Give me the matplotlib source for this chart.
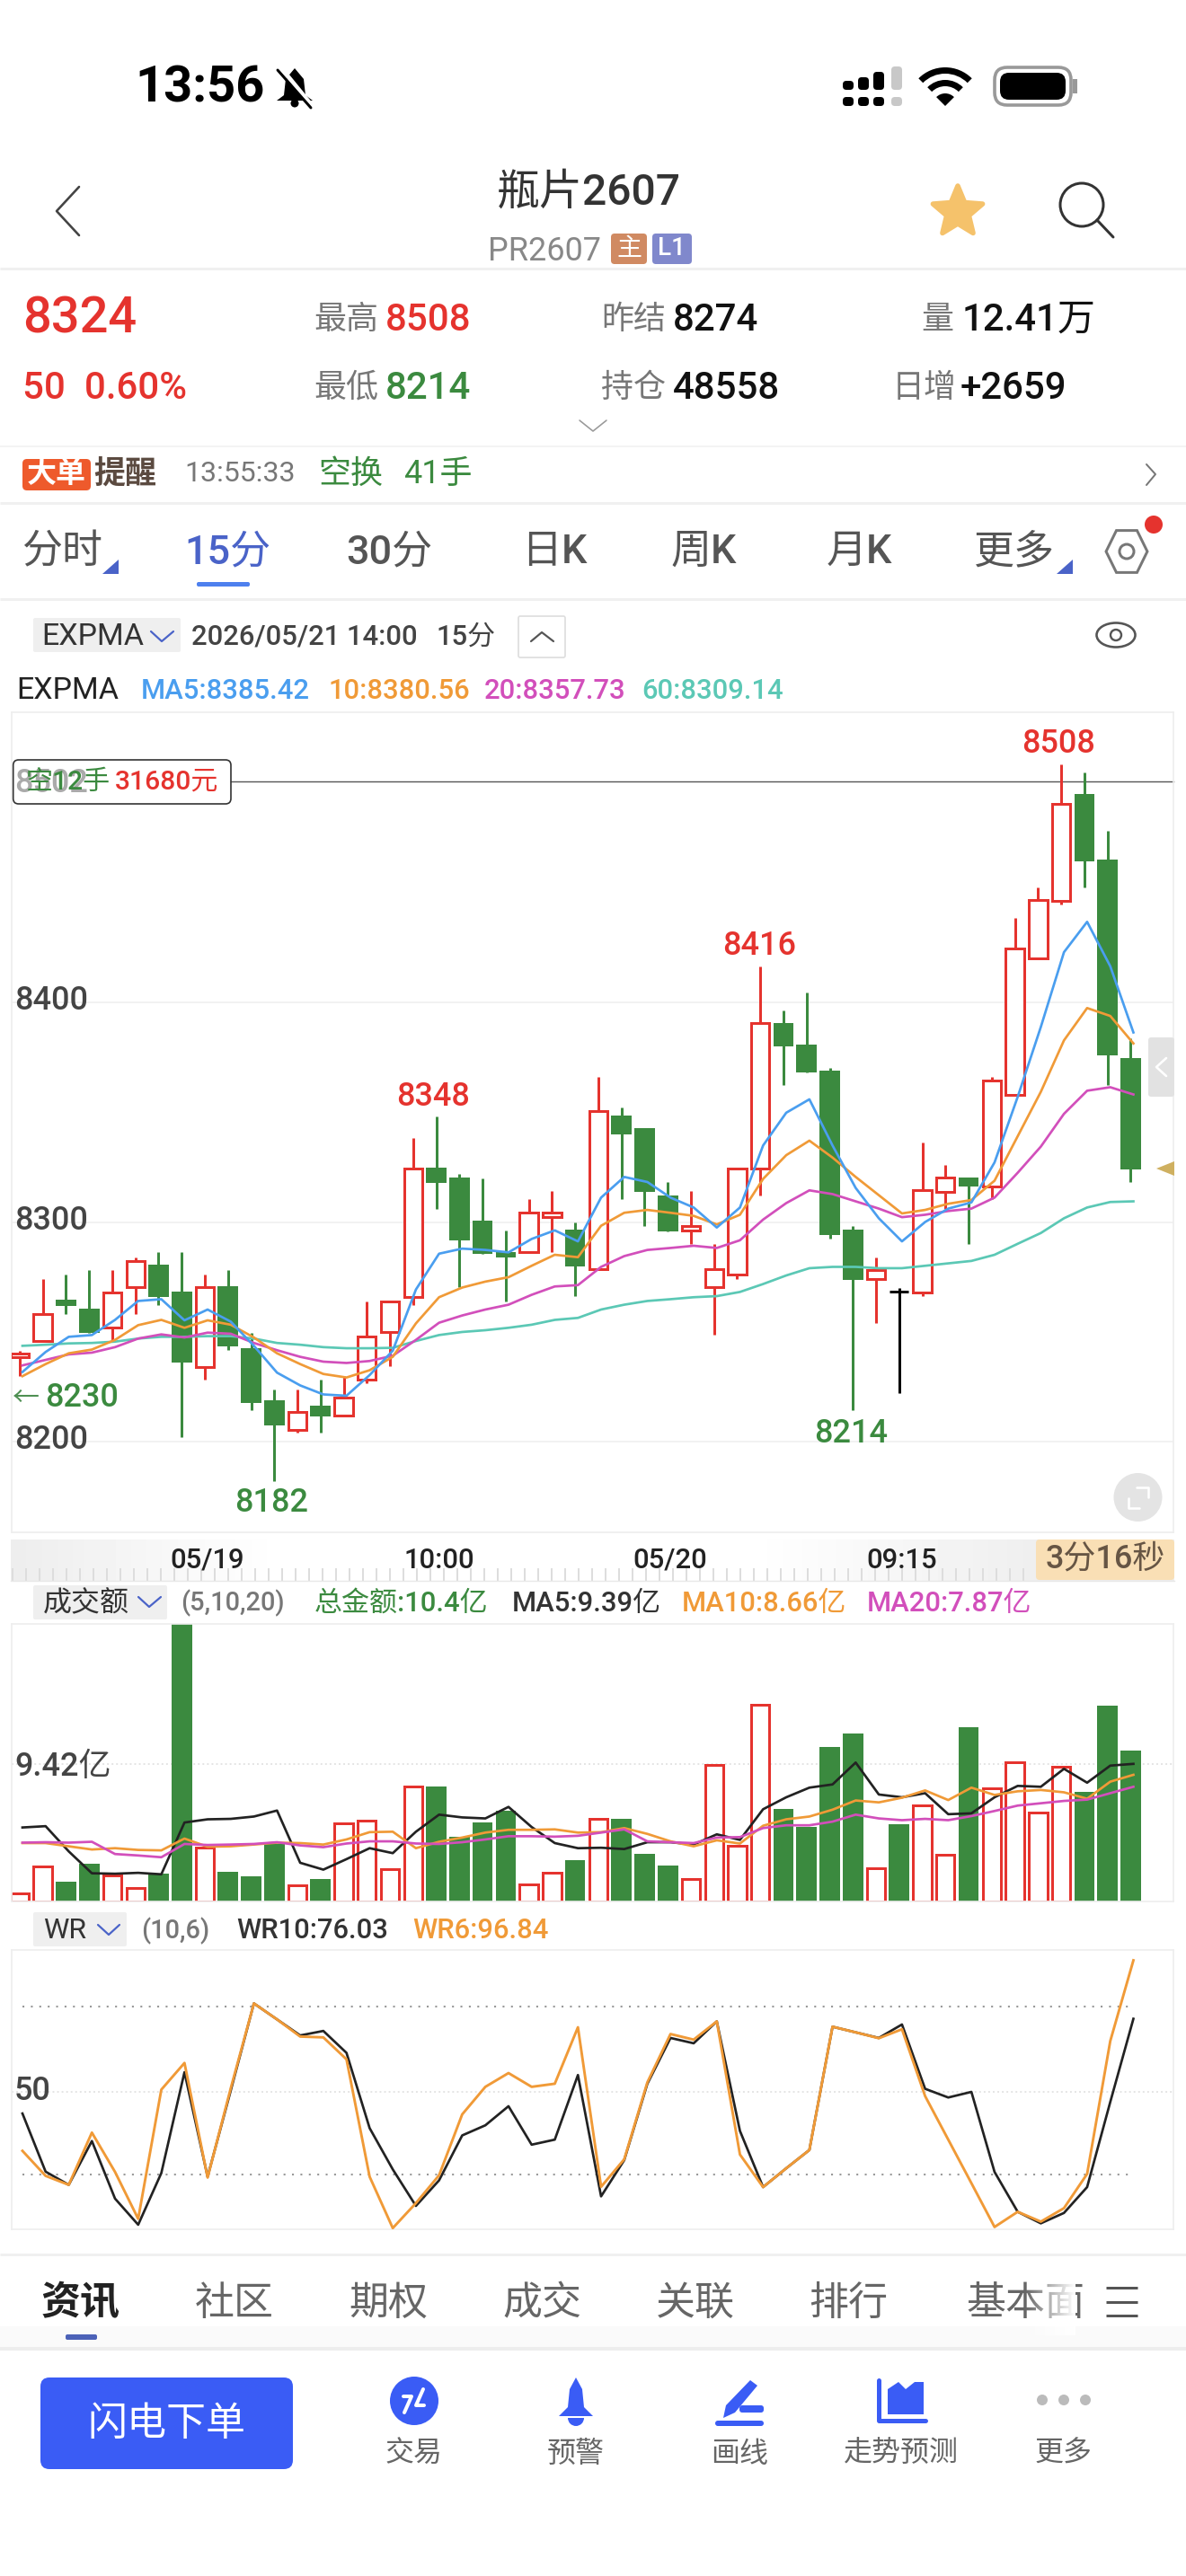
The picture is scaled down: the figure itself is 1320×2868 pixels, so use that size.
import numpy as np
import matplotlib
matplotlib.use("Agg")
import matplotlib.pyplot as plt
from matplotlib.patches import FancyBboxPatch, Rectangle, Circle, Polygon, Wedge, Ellipse

plt.rcParams['font.family'] = ['Roboto', 'Noto Sans CJK SC', 'DejaVu Sans']

W = 1320
H = 2868

# candles
highs = [8241.4, 8274, 8276.2, 8278.2, 8278.2, 8284, 8286.2, 8286.2, 8276.2, 8278.2, 8249.7, 8223.8, 8223.8, 8228.2, 8229.8, 8264, 8264, 8338, 8348, 8321.8, 8319.9, 8296, 8310.5, 8314, 8300,
         8366, 8351.9, 8342.5, 8318.2, 8314, 8290, 8324.3, 8416.3, 8396, 8404.4, 8369.9, 8298, 8284, 8269.9, 8336.2, 8326, 8320.4, 8366, 8438.4, 8452.2, 8508.3, 8504.4, 8477.9, 8383.7]
tops = [8240.3, 8258, 8264.6, 8260.8, 8268, 8282.3, 8280.7, 8268.5, 8270.2, 8270.7, 8242.5, 8218.8, 8213.8, 8216.6, 8220.2, 8248, 8264, 8324.3, 8324.6, 8320.4, 8300.6, 8286.2, 8304.1, 8304.4, 8296.7,
        8350.6, 8348.6, 8342.5, 8312.2, 8298.3, 8278.5, 8324.3, 8390.3, 8390.6, 8380.7, 8368.8, 8296.7, 8278.2, 8268.2, 8314.4, 8320.4, 8320.4, 8364.4, 8424.3, 8446.4, 8490.3, 8494.8, 8464.9, 8374.6]
bottoms = [8238.7, 8245.9, 8261.9, 8249.7, 8252, 8270.2, 8265.8, 8235.9, 8234, 8243.6, 8217.7, 8207.7, 8205.5, 8211.6, 8212.2, 8228.2, 8250, 8265.8, 8317.7, 8291.7, 8285.6, 8283.7, 8286.2, 8302.2, 8280,
           8278.5, 8339.8, 8313.8, 8295.6, 8296.1, 8270.2, 8276.2, 8324.3, 8380, 8368, 8293.9, 8273.8, 8274, 8268.2, 8268, 8313.8, 8316, 8316, 8358, 8419.9, 8445.9, 8463.8, 8375.7, 8323.8]
lows = [8229.8, 8245.9, 8258, 8249.7, 8246.4, 8258, 8262.4, 8202.2, 8228.2, 8242, 8214.4, 8182.3, 8204.4, 8204.4, 8212.2, 8226.5, 8234.3, 8262.4, 8306, 8270.2, 8285.6, 8264, 8286.2, 8286.2, 8266.3,
        8278.5, 8310.5, 8298.3, 8295.6, 8290, 8248.6, 8274, 8312.2, 8362.4, 8368, 8292.3, 8214.4, 8254.1, 8222.1, 8266.3, 8306, 8290, 8310.5, 8358, 8419.9, 8444.2, 8452.2, 8362.2, 8318.2]
kinds = list("rrggrrggrgggrgrrrrggggrrgrgggrrrrggggrkrrgrrrrggg")

expma5 = [8231.8, 8240.9, 8247.8, 8248.6, 8255.5, 8264.1, 8264.9, 8255.3, 8260.2, 8254.7, 8243.7, 8231.5, 8225.7, 8221.6, 8221, 8230.4, 8241.5, 8269.3, 8285.6, 8287.9, 8287.3, 8286.2, 8292.3, 8296.2, 8291.2,
          8311.1, 8320.5, 8318.2, 8311.1, 8306.6, 8297.5, 8306.6, 8334.8, 8349.7, 8355.8, 8334.8, 8315.5, 8301.7, 8291.2, 8300, 8306.1, 8308.9, 8327.1, 8356.9, 8388.7, 8422.7, 8436.5, 8416.3, 8386.2]
expma10 = [8229.9, 8235.4, 8240.3, 8242, 8246.4, 8253.1, 8255.5, 8251.9, 8255.3, 8253.3, 8247.5, 8240.3, 8235.4, 8230.9, 8229.3, 8232.6, 8238.7, 8253.9, 8265.8, 8270.2, 8272.9, 8274.9, 8280.1, 8285.1, 8284,
           8298.3, 8304.2, 8305.5, 8304.2, 8302.8, 8298.9, 8303.3, 8319.6, 8330.4, 8337, 8329.3, 8320.5, 8312.2, 8303.9, 8305.5, 8308.3, 8310, 8318.8, 8339, 8359.2, 8382.6, 8397.3, 8393.7, 8381.2]
expma20 = [8234.8, 8237.3, 8239.8, 8240.6, 8243.1, 8247, 8248.9, 8247.5, 8249.7, 8249.2, 8245, 8241.7, 8238.7, 8236.5, 8235.9, 8236.8, 8239.2, 8246.4, 8254.2, 8257.5, 8260.2, 8262.4, 8266.9, 8270.7, 8271.3,
           8279.6, 8284.5, 8287.3, 8288.2, 8289.2, 8288.2, 8291.7, 8301.1, 8308.6, 8314.4, 8312.7, 8309.4, 8306.1, 8302.2, 8303.3, 8305, 8306.1, 8311.1, 8322.4, 8334.3, 8349.2, 8359.7, 8361.3, 8358]
expma60 = [8243.7, 8244.2, 8244.8, 8245, 8245.6, 8247, 8247.8, 8247.8, 8248.1, 8248.1, 8247, 8245, 8244.2, 8243.1, 8242.6, 8242.6, 8242.8, 8245.9, 8248.6, 8250, 8250.8, 8251.9, 8253.3, 8255.5, 8256.4,
           8260.2, 8262.4, 8264.1, 8264.9, 8265.8, 8266.3, 8268.2, 8271.8, 8275.7, 8279, 8279.6, 8279.6, 8279, 8279, 8280.1, 8281.2, 8282.3, 8285.1, 8290.1, 8295, 8301.7, 8306.6, 8309.1, 8309.4]

# turnover in yi
turnover = [0.6, 2.39, 1.35, 2.61, 1.79, 0.94, 1.92, 19.03, 3.7, 2.04, 1.76, 3.96, 1.1, 1.54, 5.4, 5.59, 2.23, 7.91, 7.91, 4.43, 5.46, 6.22, 1.19, 2.01, 2.86,
            5.68, 5.71, 3.27, 2.48, 1.57, 9.39, 3.86, 13.5, 6.37, 5.15, 10.61, 11.55, 2.32, 5.31, 6.59, 3.23, 11.96, 7.79, 9.54, 6.12, 9.26, 7.54, 13.47, 10.36]
vol_ma5 = [5.09, 5.18, 3.45, 1.95, 1.92, 1.98, 1.88, 5.43, 5.65, 5.68, 5.84, 6.25, 2.67, 2.2, 2.92, 3.67, 3.33, 4.8, 5.97, 5.78, 5.71, 6.5, 5.12, 4.02, 3.67,
           3.7, 3.61, 4.08, 4.08, 3.92, 4.62, 4.24, 6.34, 7.16, 7.82, 8.04, 9.54, 7.35, 7.16, 7.44, 6.0, 6.06, 7.16, 7.94, 7.88, 9.11, 8.16, 9.33, 9.45]
vol_ma10 = [4.02, 4.02, 3.8, 3.58, 3.67, 3.55, 3.52, 4.33, 3.77, 3.8, 3.92, 4.05, 4.02, 3.92, 4.27, 4.77, 4.8, 3.67, 4.11, 4.4, 4.74, 4.93, 4.93, 4.96, 4.74,
            4.77, 5.05, 4.65, 4.14, 3.8, 4.21, 3.99, 5.21, 5.65, 5.84, 6.31, 6.94, 6.81, 7.13, 7.63, 6.97, 7.82, 7.32, 7.57, 7.66, 7.5, 7.06, 8.23, 8.7]
vol_ma20 = [4.05, 4.08, 4.05, 4.11, 3.27, 3.17, 3.05, 3.96, 3.89, 3.92, 3.96, 4.08, 3.86, 3.74, 3.99, 4.14, 4.14, 3.99, 3.96, 4.08, 4.27, 4.49, 4.49, 4.46, 4.52,
            4.74, 4.96, 4.14, 4.08, 4.02, 4.4, 4.43, 5.05, 5.24, 5.24, 5.49, 5.97, 5.71, 5.59, 5.68, 5.59, 5.87, 6.22, 6.59, 6.75, 6.91, 7.0, 7.44, 7.88]

wr10 = [42.3, 21.6, 16.9, 32.5, 12, 2.7, 21.1, 57, 19.8, 50.5, 81.5, 75.8, 70.1, 71.7, 63.9, 37.1, 22.4, 9.4, 18.5, 34.5, 38.1, 44.9, 31.2, 33, 56,
        12.8, 25.7, 52.9, 69.2, 67.3, 75.1, 36.1, 16.1, 22.8, 29.3, 73.2, 71.2, 69.2, 74, 51.1, 48, 50, 21.5, 7.3, 3.2, 6.9, 16.1, 46.4, 76.03]
wr6 = [29, 20.1, 16.9, 35.5, 21.5, 4.8, 50.8, 60.3, 19.5, 51.3, 81.5, 75.8, 69.7, 69.4, 61.6, 19.8, 1.5, 10.4, 20.3, 42, 51.8, 56.7, 51.8, 52.9, 73,
       16.2, 26, 53.4, 70.6, 68.6, 75.1, 27.7, 16.1, 22.8, 29.3, 73.2, 71.2, 69.1, 72.3, 48.5, 33, 17.5, 1.9, 7.3, 3.8, 8.6, 20.8, 68.1, 96.84]

price_ticks = [8200, 8300, 8400]
price_labels = ["8200", "8300", "8400"]
extreme_labels = [("8348", 17.86, 8356.6, "r"), ("8182", 10.87, 8172, "g"), ("8416", 31.96, 8425.6, "r"),
                  ("8214", 35.9, 8203.8, "g"), ("8508", 44.9, 8517.5, "r")]
time_labels = [("05/19", 231), ("10:00", 489), ("05/20", 746), ("09:15", 1004)]

RED = "#E5332E"
GREEN = "#3B8A3F"
BLUE = "#4A9EEF"
ORANGE = "#F09A37"
MAGENTA = "#D24FBB"
TEAL = "#5BC8B5"
BORDER = "#EEEEEE"
TXT = "#444444"
colmap = {"r": RED, "g": GREEN, "k": "black"}

PANEL_L = 12.6
PANEL_R = 1305.6
STEP = 25.76
X0 = 21.9
LINE_SHIFT = 0.12   # the lines sit a little to the right of the candle centres
BAR_W = 0.79
LINE_PX = 2.7

xs = np.arange(len(highs))
line_x = xs + LINE_SHIFT
x_lim = ((PANEL_L - X0) / STEP, (PANEL_R - X0) / STEP)

fig = plt.figure(figsize=(W / 100, H / 100), dpi=100, facecolor="white")


def panel(top, bottom, ylim):
    ax = fig.add_axes([PANEL_L / W, 1 - bottom / H, (PANEL_R - PANEL_L) / W, (bottom - top) / H])
    ax.set_xlim(*x_lim)
    ax.set_ylim(*ylim)
    ax.set_xticks([])
    ax.set_yticks([])
    for s in ax.spines.values():
        s.set_color(BORDER)
        s.set_linewidth(1.2)
    return ax


def px(v):
    # pixel size -> points
    return v * 0.72


# ---- price panel
ax1 = panel(793, 1706, (8158.9, 8531.8))
for t, lab in zip(price_ticks, price_labels):
    ax1.axhline(t, color="#EFEFEF", lw=1.1, zorder=1)
    ax1.text(0.0027, t + 0.6, lab, transform=ax1.get_yaxis_transform(), fontsize=px(36), color=TXT, va="center", weight="medium", zorder=6)
ax1.text(0.0027, 8499.4, "8502", transform=ax1.get_yaxis_transform(), fontsize=px(36), color="#AAAAAA", va="center", weight="medium")
ax1.axhline(8500.3, xmin=(257 - PANEL_L) / (PANEL_R - PANEL_L), color="#555555", lw=1.0, zorder=2, clip_on=False)

for i in xs:
    c = colmap[kinds[i]]
    ax1.vlines(i, lows[i], highs[i], color=c, lw=px(3), zorder=2)
    if kinds[i] == "r":
        ax1.bar(i, tops[i] - bottoms[i], BAR_W, bottom=bottoms[i], facecolor="white", edgecolor=c, linewidth=px(3), zorder=3)
    elif kinds[i] == "g":
        ax1.bar(i, tops[i] - bottoms[i], BAR_W + 0.09, bottom=bottoms[i], color=c, linewidth=0, zorder=3)
    else:
        ax1.hlines(tops[i], i - 0.4, i + 0.4, color=c, lw=px(3), zorder=3)

for vals, c in [(expma60, TEAL), (expma20, MAGENTA), (expma10, ORANGE), (expma5, BLUE)]:
    ax1.plot(line_x, vals, color=c, lw=px(LINE_PX), zorder=4, solid_joinstyle="round")

for lab, x, y, col in extreme_labels:
    ax1.text(x, y, lab, fontsize=px(36), color=colmap[col], ha="center", va="center", weight="medium", zorder=6)

# ---- turnover panel
ax2 = panel(1808.2, 2117.3, (0, 19.03))
ax2.axhline(9.42, color="#E4E4E4", lw=1.4, ls=(0, (1, 1.6)), zorder=1)
for i in xs:
    if kinds[i] == "r":
        ax2.bar(i, turnover[i], BAR_W, facecolor="white", edgecolor=RED, linewidth=px(3), zorder=2)
    else:
        ax2.bar(i, turnover[i], BAR_W + 0.09, color=GREEN, linewidth=0, zorder=2)
for vals, c in [(vol_ma5, "#222222"), (vol_ma10, ORANGE), (vol_ma20, MAGENTA)]:
    ax2.plot(line_x, vals, color=c, lw=px(LINE_PX), zorder=4)
ax2.text(0.0027, 9.2, "9.42亿", transform=ax2.get_yaxis_transform(), fontsize=px(36), color=TXT, va="center", weight="medium", zorder=6)

# ---- WR panel
ax3 = panel(2171.4, 2481.6, (1.2, 100.4))
ax3.axhline(50, color="#E4E4E4", lw=1.4, ls=(0, (1, 1.6)), zorder=1)
ax3.hlines([80.5, 20.5], line_x[0], line_x[-1], color="#999999", lw=1.5, ls=(0, (1, 3.5)), zorder=1)
ax3.plot(line_x, wr10, color="#222222", lw=px(LINE_PX), zorder=3)
ax3.plot(line_x, wr6, color=ORANGE, lw=px(2.9), zorder=4)
ax3.text(0.0027, 50.2, "50", transform=ax3.get_yaxis_transform(), fontsize=px(36), color=TXT, va="center", weight="medium", zorder=6)

# ---- page furniture in pixel coordinates, on top of the charts
ui = fig.add_axes([0, 0, 1, 1], zorder=5)
ui.patch.set_alpha(0)
ui.set_xlim(0, W)
ui.set_ylim(H, 0)
ui.axis("off")


def txt(x, y, s, size, color=TXT, ha="left", weight="medium", **kw):
    # text boxes come out a few pixels high, hence the +3
    return ui.text(x, y + 3, s, fontsize=px(size), color=color, ha=ha, va="center", weight=weight, **kw)


def hline(y, color="#F0F0F0", lw=3, x0=0, x1=W):
    ui.plot([x0, x1], [y, y], color=color, lw=px(lw), solid_capstyle="butt")


def poly(pts, color="#444444", lw=2.5, fill=False):
    pts = np.array(pts, dtype=float)
    if fill:
        ui.add_patch(Polygon(pts, closed=True, fc=color, ec="none"))
    else:
        ui.plot(pts[:, 0], pts[:, 1], color=color, lw=px(lw), solid_capstyle="round", solid_joinstyle="round")


def rbox(x0, y0, x1, y1, fc, ec="none", r=5, lw=1.0):
    ui.add_patch(FancyBboxPatch((x0 + r, y0 + r), x1 - x0 - 2 * r, y1 - y0 - 2 * r,
                                boxstyle="round,pad=%g,rounding_size=%g" % (r, r), fc=fc, ec=ec, lw=lw))


# status bar
txt(150, 95, "13:56", 56, "black", weight="bold")
ui.add_patch(Polygon([[328, 76], [318, 88], [316, 106], [308, 112], [348, 112], [340, 106], [338, 88]], closed=True, fc="black", ec="none"))
ui.add_patch(Circle((328, 115), 4.5, fc="black"))
poly([[313, 76], [349, 120]], "white", 5)
poly([[309, 78], [346, 120]], "black", 3)
sig_x = [938, 955, 972, 992]
sig_top = [90, 86, 80, 74]
for c in range(4):
    col = "black" if c < 3 else "#C8C8C8"
    rbox(sig_x[c], sig_top[c], sig_x[c] + 12, 100, col, r=4)
    rbox(sig_x[c], 108, sig_x[c] + 12, 118, col, r=4)
for r, w_ in [(42, 7), (28, 7)]:
    ui.add_patch(Wedge((1052, 117), r, 225, 315, width=w_, fc="black", ec="none"))
ui.add_patch(Wedge((1052, 118), 14, 225, 315, fc="black", ec="none"))
rbox(1107, 75, 1192, 117, "white", "#999999", r=14, lw=2.6)
rbox(1113, 81, 1186, 111, "black", r=10)
ui.add_patch(Rectangle((1194, 88), 5, 16, fc="#999999", ec="none"))

# title row
poly([[88, 208], [63, 235], [88, 262]], "#444444", 2.6)
txt(655, 212, "瓶片2607", 48, "#333333", ha="center")
txt(543, 277, "PR2607", 36, "#888888", weight="normal")
rbox(680, 260, 720, 294, "#D08A62", r=4)
txt(700, 274, "主", 28, "white", ha="center")
rbox(726, 260, 770, 294, "#8088CC", r=4)
txt(748, 274, "L1", 28, "white", ha="center")
ang = np.linspace(np.pi / 2, np.pi / 2 + 2 * np.pi, 11)[:-1]
rad = np.where(np.arange(10) % 2 == 0, 29, 13)
ui.add_patch(Polygon(np.c_[1066 + rad * np.cos(ang), 236 - rad * np.sin(ang)], closed=True, fc="#F5C26B", ec="#F5C26B", lw=4, joinstyle="round"))
ui.add_patch(Circle((1204, 228), 24, fc="none", ec="#333333", lw=px(3)))
poly([[1221, 245], [1239, 264]], "#333333", 3)
hline(299)

# quote block
txt(25, 352, "8324", 56, RED)
for x, y, s in [(349, 353, "最高"), (349, 429, "最低"), (669, 353, "昨结"), (669, 429, "持仓"), (1025, 353, "量"), (993, 429, "日增")]:
    txt(x, y, s, 36, "#777777", weight="normal")
txt(429, 353, "8508", 42, RED)
txt(429, 429, "8214", 42, GREEN)
txt(749, 353, "8274", 42, "#111111")
txt(749, 429, "48558", 42, "#111111")
txt(1071, 353, "12.41万", 42, "#111111")
txt(1069, 429, "+2659", 42, "#111111")
txt(25, 429, "50  0.60%", 42, RED)
poly([[645, 468], [660, 480], [675, 468]], "#999999", 1.6)
hline(497, lw=1.5)

# big order row
rbox(25, 511, 101, 546, "#EE5A2C", r=5)
txt(63, 525, "大单", 33, "white", ha="center", weight="bold")
txt(104, 525, "提醒", 35, "#5B4A40", weight="bold")
txt(205, 525, "13:55:33", 32, "#777777", weight="normal")
txt(354, 525, "空换", 36, GREEN, weight="normal")
txt(449, 525, "41手", 36, GREEN, weight="normal")
poly([[1276, 517], [1286, 528], [1276, 540]], "#777777", 2)
hline(560)

# period tabs
for x, s, c in [(24, "分时", "#555555"), (205, "15分", "#4A63C8"), (385, "30分", "#555555"), (580, "日K", "#555555"),
                (747, "周K", "#555555"), (920, "月K", "#555555"), (1084, "更多", "#555555")]:
    txt(x, 612, s, 45, c)
poly([[132, 623], [132, 639], [114, 639]], "#4A63C8", fill=True)
poly([[1194, 623], [1194, 639], [1176, 639]], "#4A63C8", fill=True)
rbox(219, 648, 278, 653, "#4E80EE", r=2)
a = np.deg2rad(np.arange(30, 390, 60))
ui.add_patch(Polygon(np.c_[1254 + 27 * np.sin(a) * 0.85, 614 + 27 * np.cos(a)], closed=True, fc="none", ec="#777777", lw=px(3)))
ui.add_patch(Circle((1254, 614), 8, fc="none", ec="#777777", lw=px(3)))
ui.add_patch(Circle((1284, 584), 10, fc=RED, ec="none"))
hline(667)

# EXPMA toolbar
rbox(37, 688, 201, 726, "#EFEFEF", r=2)
txt(46, 706, "EXPMA", 34, "#333333", weight="normal")
poly([[168, 703], [180, 714], [193, 703]], "#4A63C8", 2.2)
txt(213, 706, "2026/05/21 14:00", 31, "#444444")
txt(486, 706, "15分", 31, "#444444")
rbox(577, 686, 629, 732, "white", "#DDDDDD", r=2, lw=1.2)
poly([[591, 714], [603, 704], [616, 714]], "#555555", 2.2)
ui.add_patch(Ellipse((1242, 707), 43, 27, fc="none", ec="#555555", lw=px(2.6)))
ui.add_patch(Circle((1242, 707), 6, fc="none", ec="#555555", lw=px(2.4)))

txt(18, 766, "EXPMA", 34, "#222222", weight="normal")
txt(157, 766, "MA5:8385.42", 31, BLUE)
txt(366, 766, "10:8380.56", 31, ORANGE)
txt(539, 766, "20:8357.73", 31, MAGENTA)
txt(714, 766, "60:8309.14", 31, TEAL)

# open position tag
rbox(14.7, 846, 257, 895, "none", "#333333", r=6, lw=1.2)
txt(29, 868, "空12手", 30, GREEN)
txt(128, 868, "31680元", 30, RED)
txt(14, 1553, "←", 30, "#4E8F52", weight="normal")
txt(50, 1553, "8230", 36, GREEN)

# right edge handles
rbox(1278, 1155, 1307, 1221, "#E2E2E2", r=3)
poly([[1298, 1178], [1287, 1188], [1298, 1198]], "white", 2.6)
poly([[1287, 1301], [1307, 1293], [1307, 1309]], "#CFB060", fill=True)
ui.add_patch(Circle((1266.5, 1667), 27, fc="#E4E4E4", ec="none"))
poly([[1256, 1668], [1256, 1679], [1268, 1679]], "white", 2.6)
poly([[1265, 1656], [1278, 1656], [1278, 1667]], "white", 2.6)

# time strip
grad = np.ones((1, 300))
grad[0, :70] = np.linspace(0.93, 1, 70)
grad[0, 190:270] = np.linspace(1, 0.93, 80)
grad[0, 270:] = 0.93
ui.imshow(grad, extent=(12, 1307, 1761, 1714), cmap="gray", vmin=0, vmax=1, aspect="auto", zorder=0)
ui.set_xlim(0, W)
ui.set_ylim(H, 0)
ui.vlines(np.arange(14, 1150, 15.0), 1746, 1760, color="#DDDDDD", lw=px(2), zorder=1)
ui.plot([12, 1307], [1760, 1760], color="#E8E8E8", lw=1, zorder=1)
for s, x in time_labels:
    txt(x, 1734, s, 31, "#222222", ha="center")
rbox(1153, 1714, 1307, 1759, "#F9DFB5", r=4)
txt(1230, 1733, "3分16秒", 36, "#665544", ha="center")

# turnover toolbar
rbox(37, 1765, 186, 1803, "#EFEFEF", r=2)
txt(48, 1782, "成交额", 32, "#333333", weight="normal")
poly([[154, 1778], [166, 1789], [179, 1778]], "#4A63C8", 2.2)
txt(201, 1782, "(5,10,20)", 29, "#777777")
txt(350, 1782, "总金额:10.4亿", 31, GREEN)
txt(570, 1782, "MA5:9.39亿", 31, "#333333")
txt(759, 1782, "MA10:8.66亿", 31, ORANGE)
txt(965, 1782, "MA20:7.87亿", 31, MAGENTA)

# WR toolbar
rbox(37, 2129, 141, 2167, "#EFEFEF", r=2)
txt(48, 2147, "WR", 32, "#333333", weight="normal")
poly([[109, 2143], [121, 2154], [133, 2143]], "#4A63C8", 2.2)
txt(157, 2147, "(10,6)", 29, "#777777")
txt(263, 2147, "WR10:76.03", 31, "#333333")
txt(459, 2147, "WR6:96.84", 31, ORANGE)

# bottom tabs
hline(2510)
ui.add_patch(Rectangle((0, 2590), W, 25, fc="#FAFAFA", ec="none"))
hline(2615, color="#EDEDED", lw=4)
txt(90, 2562, "资讯", 44, "#222222", ha="center", weight="bold")
for x, s in [(261, "社区"), (432, "期权"), (603, "成交"), (774, "关联"), (944, "排行")]:
    txt(x, 2562, s, 44, "#666666", ha="center")
t = txt(1075, 2562, "基本面", 44, "#666666")
t.set_clip_path(Rectangle((1070, 2530), 126, 70, transform=ui.transData))
fade = np.zeros((1, 40, 4))
fade[0, :, :3] = 1
fade[0, :, 3] = np.linspace(0, 1, 40)
ui.imshow(fade, extent=(1140, 1197, 2600, 2530), aspect="auto", zorder=4)
ui.set_xlim(0, W)
ui.set_ylim(H, 0)
for y in [2547, 2563, 2578]:
    hline(y, color="#555555", lw=3, x0=1231, x1=1266)
rbox(73, 2599, 108, 2605, "#4C62B8", r=2)

# bottom buttons
rbox(45, 2647, 326, 2749, "#3A5CF5", r=10)
txt(185.5, 2696, "闪电下单", 44, "white", ha="center")
BTN = "#3A5CF5"
ui.add_patch(Circle((461, 2673), 27, fc=BTN, ec="none"))
poly([[449, 2668], [458, 2668], [450, 2686]], "white", 4)
poly([[472, 2678], [463, 2678], [471, 2660]], "white", 4)
poly([[641, 2647], [634, 2660], [632, 2680], [622, 2690], [660, 2690], [650, 2680], [648, 2660]], BTN, fill=True)
ui.add_patch(Wedge((641, 2692), 9, 0, 180, fc=BTN, ec="none"))
poly([[835, 2650], [843, 2656], [818, 2686], [805, 2692], [808, 2678]], BTN, fill=True)
rbox(823, 2678, 850, 2686, BTN, r=3)
rbox(796, 2695, 850, 2701, BTN, r=3)
poly([[978, 2650], [978, 2695], [1030, 2695]], BTN, 5)
poly([[988, 2660], [1000, 2652], [1008, 2660], [1018, 2652], [1028, 2652], [1028, 2688], [988, 2688]], BTN, fill=True)
for x in [1160, 1184, 1208]:
    ui.add_patch(Circle((x, 2672), 6, fc="#BBBBBB", ec="none"))
for x, s in [(461, "交易"), (641, "预警"), (823, "画线"), (1003, "走势预测"), (1184, "更多")]:
    txt(x, 2729, s, 32, "#666666", ha="center", weight="normal")

fig.savefig("out.png", dpi=100, facecolor="white")
